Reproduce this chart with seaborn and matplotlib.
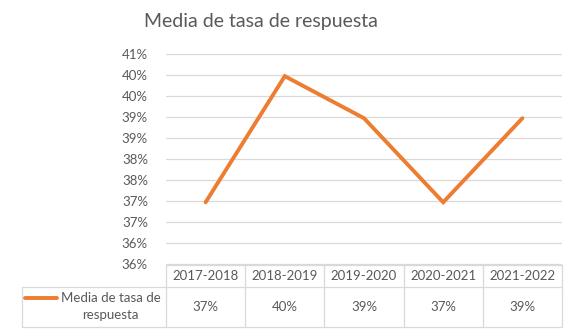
import matplotlib
matplotlib.use("Agg")
import matplotlib.pyplot as plt
import matplotlib.transforms as mtransforms
from matplotlib.lines import Line2D
import seaborn as sns
import pandas as pd
import numpy as np

# ---- data ----
categories = ["2017-2018", "2018-2019", "2019-2020", "2020-2021", "2021-2022"]
values = [0.3748, 0.4048, 0.3948, 0.3748, 0.3948]
value_labels = ["37%", "40%", "39%", "37%", "39%"]
series_name = "Media de tasa de respuesta"
title = "Media de tasa de respuesta"
ytick_values = [0.360, 0.365, 0.370, 0.375, 0.380, 0.385, 0.390, 0.395, 0.400, 0.405, 0.410]
ytick_labels = ["36%", "36%", "37%", "37%", "38%", "38%", "39%", "39%", "40%", "40%", "41%"]

sns.set_style("white")
plt.rcParams["font.family"] = ["Lato", "DejaVu Sans"]

TXT = "#595959"
GRID = "#d9d9d9"
ORANGE = "#ED7D31"

W, H = 572, 334
fig = plt.figure(figsize=(W / 100, H / 100), dpi=100)
ax_l, ax_r, ax_t, ax_b = 166, 562, 54.3, 264.5
ax = fig.add_axes([ax_l / W, 1 - ax_b / H, (ax_r - ax_l) / W, (ax_b - ax_t) / H])

df = pd.DataFrame({"periodo": categories, "valor": values})
sns.lineplot(data=df, x="periodo", y="valor", ax=ax, color=ORANGE, linewidth=2.8,
             sort=False, solid_capstyle="round", solid_joinstyle="miter")

ax.set_xlim(-0.5, len(categories) - 0.5)
ax.set_ylim(ytick_values[0], ytick_values[-1])
ax.set_yticks(ytick_values)
ax.set_yticklabels(ytick_labels)
ax.set_xticks([])
ax.set_xlabel("")
ax.set_ylabel("")
ax.tick_params(axis="y", length=0, pad=13, labelsize=9.5, labelcolor=TXT)
for s in ax.spines.values():
    s.set_visible(False)
ax.grid(axis="y", color=GRID, linewidth=0.9)
ax.set_axisbelow(True)

# ---- title ----
fig.text(261 / W, 1 - 22 / H, title, ha="center", va="center", fontsize=14, color=TXT)

# ---- data table ----
ax_h = ax_b - ax_t
ax_w = ax_r - ax_l
y_head_bot = -(287.3 - ax_b) / ax_h
y_row_bot = -(326.7 - ax_b) / ax_h
x_left_ax = (21.7 - ax_l) / ax_w
tr = mtransforms.blended_transform_factory(ax.transData, ax.transAxes)
n = len(categories)
lkw = dict(color=GRID, linewidth=0.9, clip_on=False)
# horizontal borders
ax.plot([-0.5, n - 0.5], [0, 0], transform=tr, **lkw)
ax.plot([-0.5, n - 0.5], [y_head_bot, y_head_bot], transform=tr, **lkw)
ax.plot([x_left_ax, 0], [y_head_bot, y_head_bot], transform=ax.transAxes, **lkw)
ax.plot([-0.5, n - 0.5], [y_row_bot, y_row_bot], transform=tr, **lkw)
ax.plot([x_left_ax, 0], [y_row_bot, y_row_bot], transform=ax.transAxes, **lkw)
# vertical borders
for i in range(n + 1):
    ax.plot([i - 0.5, i - 0.5], [0, y_row_bot], transform=tr, **lkw)
ax.plot([x_left_ax, x_left_ax], [y_head_bot, y_row_bot], transform=ax.transAxes, **lkw)

for i, (c, v) in enumerate(zip(categories, value_labels)):
    ax.text(i, y_head_bot / 2, c, transform=tr, ha="center", va="center",
            fontsize=9.5, color=TXT)
    ax.text(i, (y_head_bot + y_row_bot) / 2, v, transform=tr, ha="center", va="center",
            fontsize=9.5, color=TXT)

# legend key + series name
fig.add_artist(Line2D([25 / W, 56.7 / W], [1 - 297.7 / H, 1 - 297.7 / H],
                      color=ORANGE, linewidth=2.8, transform=fig.transFigure))
fig.text(110.5 / W, 1 - 306.5 / H, "Media de tasa de\nrespuesta", ha="center", va="center",
         fontsize=9.5, color=TXT, linespacing=1.45)

fig.savefig("out.png", dpi=100)
